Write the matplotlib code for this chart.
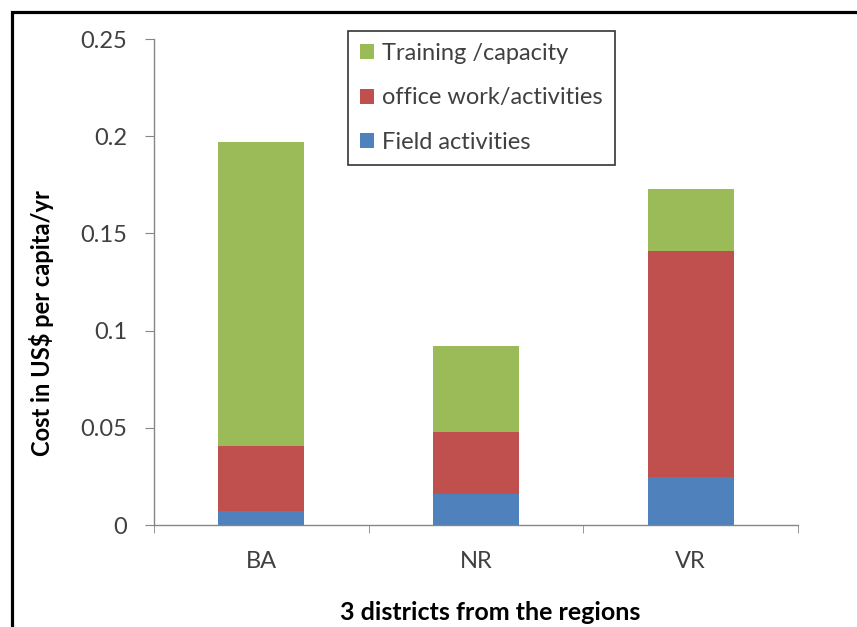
import matplotlib
matplotlib.use("Agg")
import matplotlib.pyplot as plt
from matplotlib.patches import Rectangle, Patch
import numpy as np

plt.rcParams['font.family'] = ['Lato', 'DejaVu Sans']

districts = ["BA", "NR", "VR"]
field = [0.0072, 0.0161, 0.0249]
office = [0.0336, 0.0319, 0.1162]
training = [0.1561, 0.0442, 0.0316]
series_names = ["Field activities", "office work/activities", "Training /capacity"]
colors = ["#4F81BD", "#C0504D", "#9BBB59"]

W, H = 857, 627
fig = plt.figure(figsize=(W / 100, H / 100), dpi=100)
ax = fig.add_axes([154 / W, 1 - 525 / H, (798 - 154) / W, (525 - 39) / H])

x = np.arange(len(districts))
bottom = np.zeros(len(districts))
for vals, c in zip([field, office, training], colors):
    ax.bar(x, vals, width=0.4, bottom=bottom, color=c, edgecolor="none")
    bottom += np.array(vals)

ax.set_xlim(-0.5, 2.5)
ax.set_ylim(0, 0.25)
ax.set_yticks([0, 0.05, 0.1, 0.15, 0.2, 0.25])
ax.set_yticklabels(["0", "0.05", "0.1", "0.15", "0.2", "0.25"])
ax.set_xticks(x)
ax.set_xticklabels(districts)
ax.set_xticks([-0.5, 0.5, 1.5, 2.5], minor=True)

gray = "#868686"
txt = "#404040"
for s in ["top", "right"]:
    ax.spines[s].set_visible(False)
for s in ["left", "bottom"]:
    ax.spines[s].set_color(gray)
    ax.spines[s].set_linewidth(1.0)

ax.tick_params(axis="y", direction="out", length=6.5, color=gray, labelsize=17,
               labelcolor=txt, pad=13)
ax.tick_params(axis="x", which="major", length=0, labelsize=17, labelcolor=txt, pad=19)
ax.tick_params(axis="x", which="minor", direction="out", length=6, color=gray)

ax.set_ylabel("Cost in US$ per capita/yr", fontsize=17, fontweight="bold",
              va="center", ha="center")
ax.yaxis.set_label_coords((42 - 154) / 644, (525 - 323) / 486)
ax.set_xlabel("3 districts from the regions", fontsize=18, fontweight="bold",
              va="center", ha="center")
ax.xaxis.set_label_coords((490 - 154) / 644, (525 - 613) / 486)

handles = [Patch(facecolor=c, edgecolor="none") for c in colors]
leg = ax.legend(handles[::-1], series_names[::-1], loc="upper left",
                bbox_to_anchor=((348 - 154) / (798 - 154), 1 + (39 - 31) / 486),
                fontsize=17, frameon=True, fancybox=False, edgecolor="black",
                handlelength=0.6, handleheight=0.6, handletextpad=0.35,
                labelspacing=1.0, borderpad=0.5, borderaxespad=0)
leg.get_frame().set_linewidth(1.2)
for t in leg.get_texts():
    t.set_color(txt)

fig.patches.append(Rectangle((11.5 / W, -0.1), 1.2, 1.1 - 12 / H,
                             transform=fig.transFigure, fill=False,
                             edgecolor="black", linewidth=2.3))

fig.savefig("out.png", dpi=100)
